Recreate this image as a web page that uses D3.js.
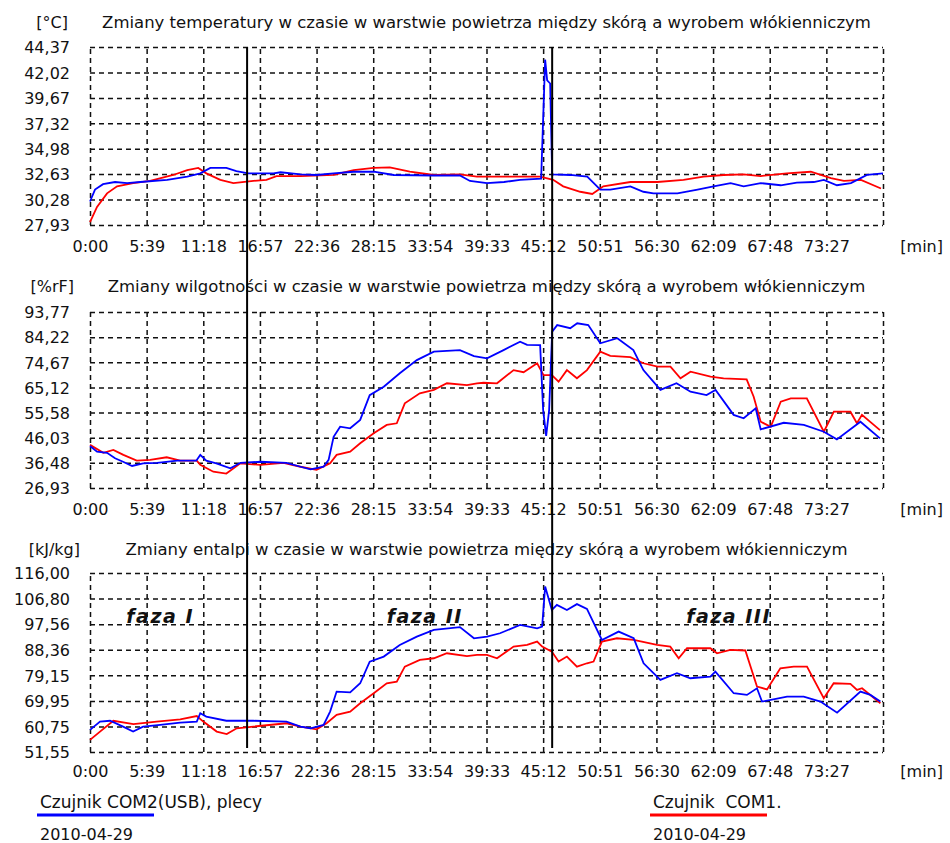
<!DOCTYPE html>
<meta charset="utf-8">
<style>
body { margin: 0; background: #fff; }
text { font-family: "DejaVu Sans", sans-serif; fill: #111; white-space: pre; }
.grid line { stroke: #111; stroke-width: 1.5px; stroke-dasharray: 5,4; }
.grid path { display: none; }
.lbl path, .lbl line { display: none; }
.lbl text { font-size: 16px; }
.line { fill: none; stroke-width: 1.8px; }
</style>
<body>
<script src="https://cdn.jsdelivr.net/npm/d3@7"></script>
<script>

// x axis ticks (m:ss), last one is the right edge of the plot
var xTickLabels = ["0:00","5:39","11:18","16:57","22:36","28:15","33:54","39:33","45:12","50:51","56:30","62:09","67:48","73:27"];
var xEndLabel = "79:06";

// y tick labels of each panel
var tempTicks = [27.93, 30.28, 32.63, 34.98, 37.32, 39.67, 42.02, 44.37];
var humTicks  = [26.93, 36.48, 46.03, 55.58, 65.12, 74.67, 84.22, 93.77];
var enthTicks = [51.55, 60.75, 69.95, 79.15, 88.36, 97.56, 106.80, 116.00];

// phase borders [min]
var phaseLines = [15.67, 46.1];
var phaseNames = ["faza I", "faza II", "faza III"];
var phaseAt = [7.0, 33.4, 63.7];

// [time in min, value]
var tempBlue = [[0,30.1],[0.5,31.2],[1.3,31.7],[2.5,31.9],[3.7,31.8],[5.0,31.9],[7.7,32.1],[9.7,32.4],[11.0,32.7],[12.0,33.2],
  [13.6,33.2],[14.6,32.9],[15.8,32.7],[18.3,32.7],[19.0,32.8],[21.0,32.6],[22.6,32.55],[24.3,32.7],[26.3,32.85],[28.3,32.85],
  [30.3,32.55],[34.3,32.5],[36.9,32.5],[37.9,32.0],[39.6,31.8],[41.3,31.9],[42.9,32.1],[45.0,32.2],[45.4,43.2],[45.6,41.3],
  [45.9,41.0],[46.1,32.6],[47.9,32.55],[49.6,32.4],[50.9,31.2],[51.9,31.2],[53.9,31.5],[55.2,31.0],[56.2,30.85],[58.6,30.85],
  [60.6,31.2],[62.2,31.5],[63.9,31.8],[65.2,31.5],[66.9,31.8],[68.9,31.6],[70.5,31.85],[72.2,31.9],[73.2,32.1],[74.5,31.6],
  [75.9,31.8],[77.5,32.55],[79.1,32.7]];
var tempRed = [[0,28.2],[0.7,29.6],[1.7,30.85],[2.7,31.5],[4.3,31.8],[6.0,32.0],[8.3,32.55],[9.7,33.0],[10.8,33.2],[11.6,32.7],
  [13.0,32.1],[14.3,31.8],[16.3,32.0],[17.6,32.1],[18.6,32.45],[21.0,32.45],[24.3,32.55],[26.3,33.0],[28.3,33.2],[29.9,33.25],
  [31.9,32.85],[34.3,32.55],[36.9,32.6],[38.6,32.4],[41.3,32.4],[44.9,32.4],[46.2,32.1],[47.2,31.5],[48.9,31.0],[50.1,30.8],
  [51.2,31.5],[53.9,31.9],[56.6,31.9],[59.2,32.1],[61.2,32.4],[63.2,32.55],[65.2,32.6],[66.9,32.45],[69.5,32.7],[71.9,32.85],
  [73.9,32.25],[75.2,32.0],[76.9,32.1],[78.9,31.3]];

var humBlue = [[0,42.9],[0.7,40.7],[1.7,40.3],[2.5,38.2],[3.3,36.9],[4.2,35.3],[5.3,36.3],[6.7,36.5],[8.7,37.3],[10.6,37.3],
  [11.0,39.5],[11.6,37.3],[12.6,36.3],[14.0,34.4],[15.0,36.5],[17.0,36.9],[19.6,36.5],[21.0,35.0],[22.0,34.0],[23.3,35.0],
  [23.8,37.6],[24.3,46.4],[24.95,50.2],[25.95,49.6],[26.95,52.8],[27.9,62.2],[29.3,65.4],[30.9,70.5],[32.6,75.5],[34.3,78.7],
  [36.9,79.3],[38.3,77.0],[39.6,76.2],[41.25,79.3],[42.9,82.5],[43.6,81.3],[44.9,81.2],[45.2,56.6],[45.5,46.7],[45.8,56.6],
  [46.1,86.3],[46.6,88.8],[47.9,87.6],[48.6,89.5],[49.7,88.8],[50.9,81.9],[52.6,83.8],[54.2,79.3],[55.2,71.7],[56.9,64.2],
  [58.5,66.7],[59.9,63.5],[61.5,62.2],[62.4,64.2],[64.2,54.7],[65.2,53.4],[66.4,57.2],[66.9,49.2],[69.2,51.7],[71.2,50.9],
  [73.2,48.3],[74.5,45.4],[76.85,52.1],[78.8,45.8]];
var humRed = [[0,43.3],[1.33,40.3],[2.33,41.4],[3.33,39.5],[4.66,37.3],[6.0,37.6],[7.65,38.6],[9.0,37.3],[10.65,37.3],[11.0,35.7],
  [12.3,33.1],[13.6,32.4],[15.0,36.3],[17.0,35.7],[19.3,36.5],[21.0,35.0],[22.6,33.8],[23.95,36.3],[24.6,39.5],[25.95,40.7],
  [26.95,43.9],[28.3,47.7],[29.6,50.9],[30.6,51.5],[31.4,59.1],[32.9,62.9],[34.3,64.2],[35.6,66.7],[37.6,66.0],[38.6,66.7],
  [39.25,66.9],[40.6,66.7],[42.25,71.7],[43.25,70.9],[44.6,74.3],[45.24,69.8],[46.07,69.8],[46.74,67.3],[47.57,71.7],[48.57,68.6],
  [49.57,71.7],[50.9,78.7],[51.9,77.1],[53.9,76.6],[55.2,74.3],[56.6,73.0],[57.9,73.0],[58.9,68.6],[59.9,71.1],[61.9,69.2],
  [63.2,68.6],[65.5,68.2],[66.2,61.6],[66.9,52.1],[67.9,50.2],[68.9,59.7],[69.9,61.0],[71.5,61.0],[73.2,48.3],[74.2,55.9],
  [75.85,55.9],[76.5,51.5],[77.0,54.7],[78.8,48.9]];

var enthBlue = [[0,59.5],[1.0,62.5],[2.0,62.8],[3.3,60.7],[4.3,58.9],[5.3,60.7],[7.0,61.3],[9.0,62.1],[10.65,62.5],[11.0,65.5],
  [11.6,64.3],[13.6,62.8],[16.3,62.8],[19.6,62.5],[21.0,60.7],[22.0,60.1],[23.3,61.3],[23.95,66.1],[24.6,73.3],[25.95,73.0],
  [26.95,76.3],[27.9,84.1],[29.3,85.9],[30.9,90.1],[32.6,93.1],[34.3,95.5],[36.9,96.5],[38.3,92.5],[39.6,93.1],[40.9,94.3],
  [42.9,97.3],[44.6,96.1],[45.1,96.7],[45.4,111.1],[46.07,102.7],[46.57,104.5],[47.57,102.7],[48.57,104.8],[49.57,103.1],[51.06,91.9],
  [52.73,94.9],[54.23,92.5],[55.22,83.5],[56.89,77.5],[58.55,79.9],[59.88,78.1],[61.88,78.7],[62.38,80.5],[64.21,72.7],[65.53,72.1],
  [66.53,74.5],[67.03,69.7],[69.53,71.5],[71.19,71.5],[72.86,69.7],[74.52,65.7],[76.85,73.3],[77.84,72.1],[78.84,69.7]];
var enthRed = [[0,55.9],[1.0,58.9],[2.33,62.8],[4.33,61.6],[6.65,62.5],[9.0,63.3],[10.65,64.5],[11.3,62.5],[12.64,58.9],[13.64,58.0],
  [14.64,60.1],[16.3,60.7],[19.6,61.9],[21.0,60.7],[22.6,59.7],[23.6,61.9],[24.6,64.9],[25.95,66.1],[26.95,69.1],[28.3,72.7],
  [29.6,76.3],[30.6,76.9],[31.4,82.3],[32.9,84.7],[34.3,85.3],[35.6,87.1],[37.6,86.1],[38.6,86.5],[39.6,86.5],[40.6,85.3],
  [42.25,89.5],[43.6,90.1],[44.6,91.3],[45.1,89.5],[46.07,87.7],[46.74,84.1],[47.57,85.9],[48.57,82.3],[49.57,83.5],[50.23,84.1],
  [51.06,91.3],[52.56,92.5],[54.23,91.9],[56.56,90.1],[57.88,89.5],[58.72,85.3],[59.55,88.9],[61.88,88.9],[62.54,87.1],[63.87,88.3],
  [65.37,88.1],[66.53,75.1],[67.53,74.1],[68.86,81.7],[70.19,82.3],[71.52,82.3],[73.19,70.9],[74.18,76.3],[75.85,76.1],[76.51,73.9],
  [77.01,74.5],[78.84,69.1]];

var titles = [
  "Zmiany temperatury w czasie w warstwie powietrza między skórą a wyrobem włókienniczym",
  "Zmiany wilgotności w czasie w warstwie powietrza między skórą a wyrobem włókienniczym",
  "Zmiany entalpi w czasie w warstwie powietrza między skórą a wyrobem włókienniczym"
];
var units = ["[°C]", "[%rF]", "[kJ/kg]"];
var legendNames = ["Czujnik COM2(USB), plecy", "Czujnik  COM1."];
var legendDate = "2010-04-29";

// layout
var W = 950, H = 843, left = 90, right = 883;
var panels = [
  {ticks: tempTicks, blue: tempBlue, red: tempRed, top: 47,  bottom: 225, titleY: 28,  unitX: 68, xLabY: 252},
  {ticks: humTicks,  blue: humBlue,  red: humRed,  top: 312, bottom: 488, titleY: 292, unitX: 74, xLabY: 515},
  {ticks: enthTicks, blue: enthBlue, red: enthRed, top: 573, bottom: 752, titleY: 555, unitX: 80, xLabY: 777}
];

function toMin(s) { var p = s.split(":"); return +p[0] + p[1] / 60; }
var xTicks = xTickLabels.map(toMin);
var xMax = toMin(xEndLabel);

var x = d3.scaleLinear().domain([0, xMax]).range([left, right]);
var plFormat = d3.formatLocale({decimal: ",", thousands: " ", grouping: [3], currency: ["", ""]}).format(".2f");

var svg = d3.select("body").append("svg")
    .attr("width", W)
    .attr("height", H);

panels.forEach(function(p, i) {
  var y = d3.scaleLinear().domain([p.ticks[0], p.ticks[p.ticks.length - 1]]).range([p.bottom, p.top]);
  var g = svg.append("g");

  // dashed grid (incl. frame)
  g.append("g").attr("class", "grid")
      .attr("transform", "translate(" + left + ",0)")
      .call(d3.axisLeft(y).tickValues(p.ticks).tickSize(-(right - left)).tickFormat(""));
  g.append("g").attr("class", "grid")
      .attr("transform", "translate(0," + p.bottom + ")")
      .call(d3.axisBottom(x).tickValues(xTicks.concat([xMax])).tickSize(-(p.bottom - p.top)).tickFormat(""));

  // labels
  g.append("g").attr("class", "lbl")
      .attr("transform", "translate(70,0)")
      .call(d3.axisLeft(y).tickValues(p.ticks).tickSize(0).tickPadding(0).tickFormat(plFormat))
      .selectAll("text").attr("dy", "0.36em");
  g.append("g").attr("class", "lbl")
      .attr("transform", "translate(0," + p.xLabY + ")")
      .call(d3.axisBottom(x).tickValues(xTicks).tickSize(0).tickPadding(0)
        .tickFormat(function(d, k) { return xTickLabels[k]; }))
      .selectAll("text").attr("dy", null).attr("y", 0);

  g.append("text")
      .attr("x", 943).attr("y", p.xLabY)
      .attr("text-anchor", "end")
      .style("font-size", "16px")
      .text("[min]");

  g.append("text")
      .attr("x", (left + right) / 2).attr("y", p.titleY)
      .attr("text-anchor", "middle")
      .style("font-size", "16.5px")
      .text(titles[i]);

  g.append("text")
      .attr("x", p.unitX).attr("y", p.titleY)
      .attr("text-anchor", "end")
      .style("font-size", "16px")
      .text(units[i]);

  var line = d3.line()
      .x(function(d) { return x(d[0]); })
      .y(function(d) { return y(d[1]); });

  g.append("path").datum(p.red).attr("class", "line").style("stroke", "#ff0000").attr("d", line);
  g.append("path").datum(p.blue).attr("class", "line").style("stroke", "#0000ff").attr("d", line);

  if (i == 2) {
    phaseNames.forEach(function(n, k) {
      g.append("text")
          .attr("x", x(phaseAt[k])).attr("y", y(98))
          .attr("text-anchor", "middle")
          .style("font-size", "19px")
          .style("font-weight", "bold")
          .style("font-style", "italic")
          .style("letter-spacing", "1.5px")
          .text(n);
    });
  }
});

// phase borders across all panels
svg.selectAll(".phase").data(phaseLines).enter().append("line")
    .attr("class", "phase")
    .attr("x1", function(d) { return x(d); }).attr("x2", function(d) { return x(d); })
    .attr("y1", 47).attr("y2", 748)
    .style("stroke", "#000").style("stroke-width", 2);

// legend
var legX = [40, 653], legCol = ["#0000ff", "#ff0000"];
legendNames.forEach(function(n, k) {
  svg.append("text").attr("x", legX[k]).attr("y", 808).style("font-size", "17px").text(n);
  svg.append("line")
      .attr("x1", legX[k] - 3).attr("x2", legX[k] + 114)
      .attr("y1", 815).attr("y2", 815)
      .style("stroke", legCol[k]).style("stroke-width", 3);
  svg.append("text").attr("x", legX[k]).attr("y", 840).style("font-size", "16px").text(legendDate);
});

</script>
</body>
